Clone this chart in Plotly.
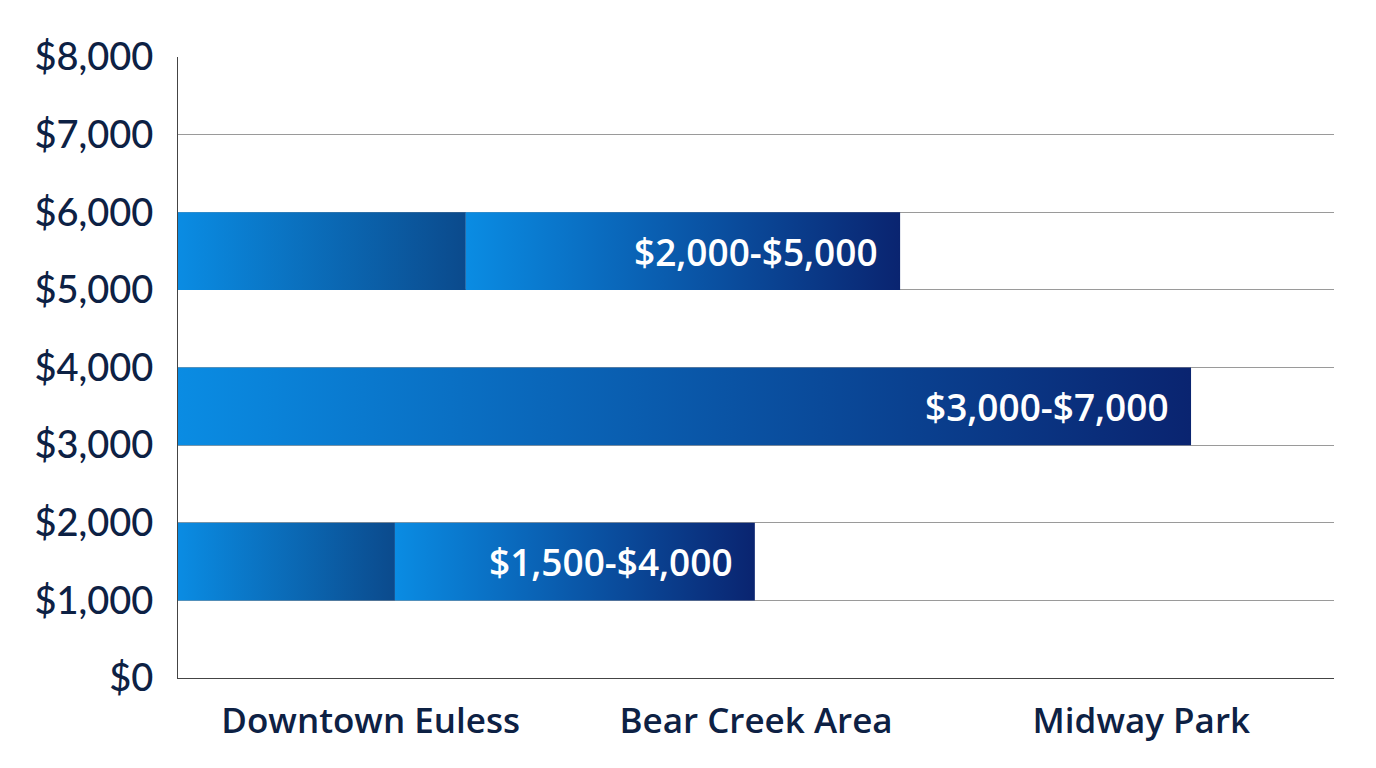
import plotly.graph_objects as go

# areas along the bottom axis
areas = ["Downtown Euless", "Bear Creek Area", "Midway Park"]

# each band: y range (in $) and bar extents
band_low = [1000, 3000, 5000]
band_high = [2000, 4000, 6000]
split_at = [0.563, None, 0.747]   # end of the first (darker) block, if any
bar_end = [1.497, 2.629, 1.874]
labels = ["$1,500-$4,000", "$3,000-$7,000", "$2,000-$5,000"]

bright = "#0a8ce3"
navy = "#0a2470"
steel = "#0b4a8c"
ink = "#0d2144"

fig = go.Figure()


def block(x0, x1, y0, y1, c0, c1):
    fig.add_trace(go.Scatter(
        x=[x0, x1, x1, x0, x0],
        y=[y0, y0, y1, y1, y0],
        mode="lines",
        fill="toself",
        line=dict(width=0),
        fillgradient=dict(type="horizontal", colorscale=[[0, c0], [1, c1]]),
        hoverinfo="skip",
        showlegend=False,
    ))


for lo, hi, sp, end, lab in zip(band_low, band_high, split_at, bar_end, labels):
    if sp is None:
        block(0, end, lo, hi, bright, navy)
    else:
        block(0, sp, lo, hi, bright, steel)
        block(sp, end, lo, hi, bright, navy)
    fig.add_annotation(
        x=end, y=(lo + hi) / 2, text=lab, showarrow=False,
        xanchor="right", xshift=-20,
        font=dict(family="Open Sans", size=37, color="white", weight=600),
    )

fig.update_layout(
    width=1376, height=768,
    margin=dict(l=170, r=50, t=49, b=98),
    paper_bgcolor="white", plot_bgcolor="white",
    showlegend=False,
)
fig.update_xaxes(
    range=[0, 3], tickvals=[0.5, 1.5, 2.5], ticktext=areas,
    showgrid=False, zeroline=False, showline=True, linecolor="#444", linewidth=1,
    ticks="", ticklabelstandoff=12,
    tickfont=dict(family="Open Sans", size=35, color=ink, weight=600),
)
fig.update_yaxes(
    range=[0, 8000], dtick=1000, tickprefix="$", tickformat=",d",
    showgrid=True, gridcolor="#9a9a9a", gridwidth=1, zeroline=False,
    showline=True, linecolor="#444", linewidth=1,
    ticks="", ticklabelstandoff=16,
    tickfont=dict(family="Lato", size=38, color=ink, weight=500),
)

fig.write_html("out.html")
